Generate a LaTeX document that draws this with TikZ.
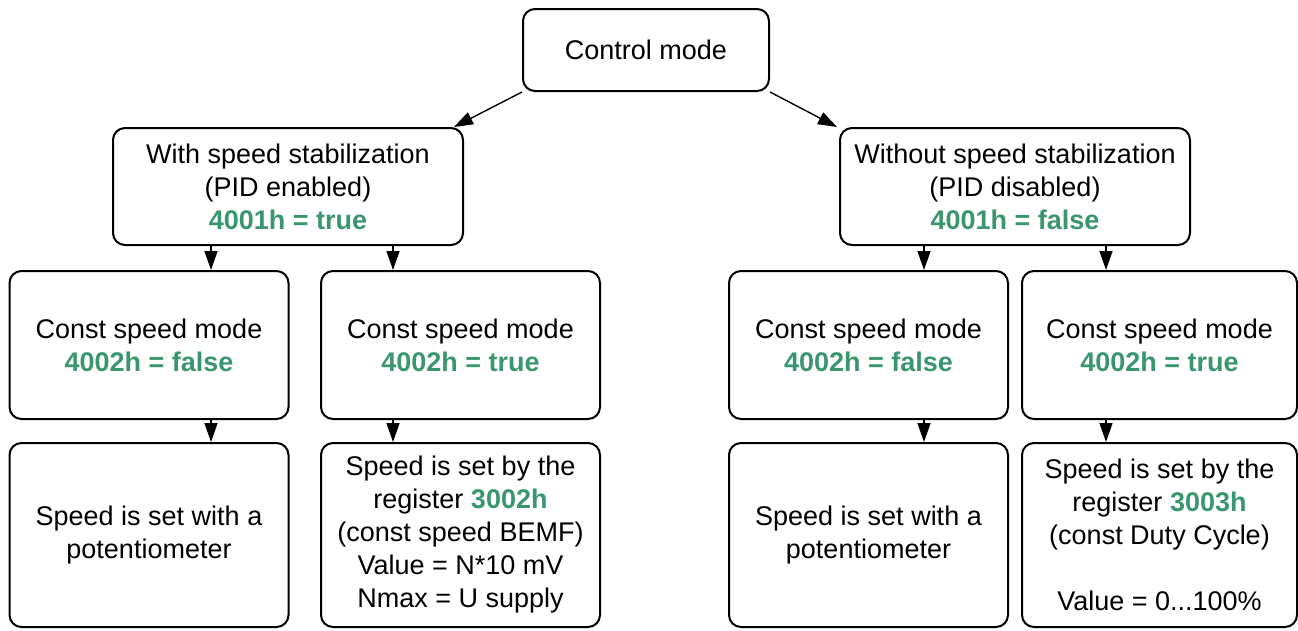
\documentclass[tikz,border=0pt]{standalone}
\usepackage{fontspec}
\setmainfont{Liberation Sans}
\definecolor{RegGreen}{RGB}{58,150,108}
\usetikzlibrary{arrows.meta}
\newcommand\regval[1]{\textbf{\color{RegGreen}#1}}

\begin{document}
\begin{tikzpicture}[x=1pt,y=-1pt,
    box/.style={draw,line width=2pt,rounded corners=12pt,align=center,inner sep=0pt,
        font=\fontsize{27}{33}\selectfont},
    branch/.style={box,minimum width=350pt,minimum height=117pt},
    modebox/.style={box,minimum width=279pt,minimum height=148pt},
    setbox/.style={box,minimum width=279pt,minimum height=184pt},
    link/.style={line width=1.4pt,-{Triangle[length=19pt,width=13pt]}}]
    \useasboundingbox (0,0) rectangle (1298,630);
    \node[box,minimum width=246pt,minimum height=82pt] (ctrl) at (646,50) {Control mode};
    \node[branch] (pidon)  at (288,186.5)  {With speed stabilization\\(PID enabled)\\\regval{4001h = true}};
    \node[branch] (pidoff) at (1015,186.5) {Without speed stabilization\\(PID disabled)\\\regval{4001h = false}};
    \node[modebox] (modeA) at (149,345)    {Const speed mode\\\regval{4002h = false}};
    \node[modebox] (modeB) at (460.5,345)  {Const speed mode\\\regval{4002h = true}};
    \node[modebox] (modeC) at (868.5,345)  {Const speed mode\\\regval{4002h = false}};
    \node[modebox,minimum width=275pt] (modeD) at (1159.5,345) {Const speed mode\\\regval{4002h = true}};
    \node[setbox] (setA) at (149,535)      {Speed is set with a\\potentiometer};
    \node[setbox] (setB) at (460.5,535)    {Speed is set by the\\register \regval{3002h}\\(const speed BEMF)\\Value = N*10 mV\\Nmax = U supply};
    \node[setbox] (setC) at (868.5,535)    {Speed is set with a\\potentiometer};
    \node[setbox,minimum width=275pt] (setD) at (1159.5,535) {Speed is set by the\\register \regval{3003h}\\(const Duty Cycle)\\[33pt]Value = 0...100\%};
    \draw[link] (ctrl.south west) -- ([xshift=-10pt]pidon.north east);
    \draw[link] (ctrl.south east) -- ([xshift=-2pt]pidoff.north west);
    \draw[link] ([xshift=62pt]modeA.north |- pidon.south) -- ([xshift=62pt]modeA.north);
    \draw[link] ([xshift=-67.5pt]modeB.north |- pidon.south) -- ([xshift=-67.5pt]modeB.north);
    \draw[link] ([xshift=55.5pt]modeC.north |- pidoff.south) -- ([xshift=55.5pt]modeC.north);
    \draw[link] ([xshift=-53.5pt]modeD.north |- pidoff.south) -- ([xshift=-53.5pt]modeD.north);
    \draw[link] ([xshift=62pt]modeA.south) -- ([xshift=62pt]setA.north);
    \draw[link] ([xshift=-67.5pt]modeB.south) -- ([xshift=-67.5pt]setB.north);
    \draw[link] ([xshift=55.5pt]modeC.south) -- ([xshift=55.5pt]setC.north);
    \draw[link] ([xshift=-53.5pt]modeD.south) -- ([xshift=-53.5pt]setD.north);
\end{tikzpicture}
\end{document}
